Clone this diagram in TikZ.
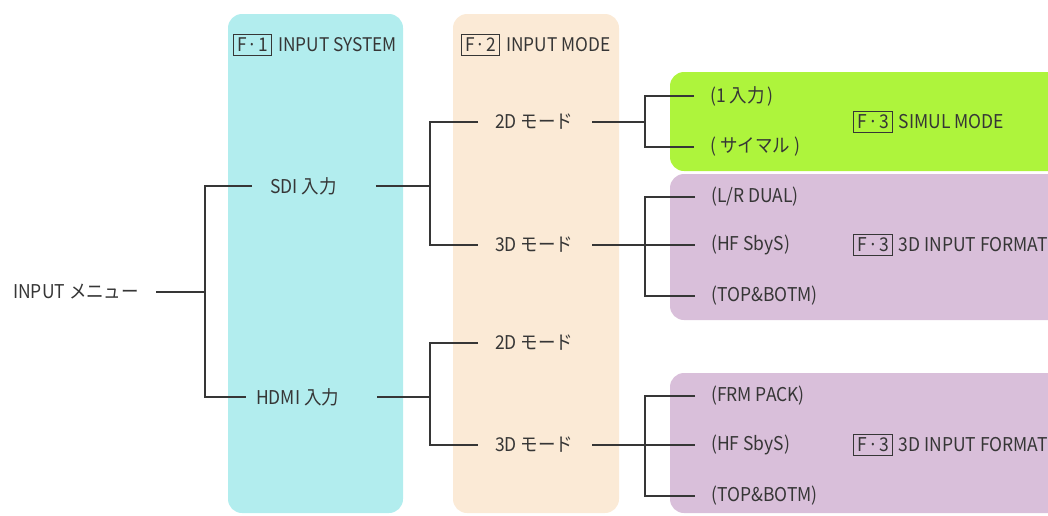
\documentclass[tikz,border=0pt]{standalone}
\usepackage{fontspec}
\setmainfont{Noto Sans CJK JP}[FakeStretch=0.92]
\definecolor{ink}{HTML}{363636}
\definecolor{cyanbg}{HTML}{B2EDEE}
\definecolor{peachbg}{HTML}{FBEAD6}
\definecolor{limebg}{HTML}{AEF43C}
\definecolor{lilacbg}{HTML}{D9BFDA}
% framed function key such as F·1
\newcommand{\fkey}[1]{{\setlength{\fboxsep}{3pt}\setlength{\fboxrule}{1pt}\fbox{\rule{0pt}{13pt}F\kern1.2pt·\kern1.2pt#1}\kern2pt}}
\begin{document}
\begin{tikzpicture}[x=1pt,y=-1pt,
  lbl/.style={anchor=west,inner sep=0pt,font=\fontsize{19}{21}\selectfont,text=ink},
  head/.style={lbl,font=\fontsize{18.8}{21}\selectfont},
  wire/.style={draw=ink,line width=1.3pt},
  panel/.style={rounded corners=14pt}]
\clip (0,0) rectangle (1048,515);
% column and group backgrounds
\fill[cyanbg,panel] (228,14) rectangle (403,513);
\fill[peachbg,panel] (453,14) rectangle (619,513);
\fill[limebg,panel] (670,72) rectangle (1080,171);
\fill[lilacbg,panel] (670,174) rectangle (1080,320);
\fill[lilacbg,panel] (670,373) rectangle (1080,513);
% headings
\node[head] (hsys) at (233,45) {\fkey{1} INPUT SYSTEM};
\node[head] (hmode) at (461,45) {\fkey{2} INPUT MODE};
\node[lbl] (hsimul) at (853,122) {\fkey{3} SIMUL MODE};
\node[lbl] (hfmt1) at (853,245) {\fkey{3} 3D INPUT FORMAT};
\node[lbl] (hfmt2) at (853,445) {\fkey{3} 3D INPUT FORMAT};
% tree items
\node[lbl] (menu) at (13,292) {INPUT メニュー};
\node[lbl] (sdi) at (270,186) {SDI 入力};
\node[lbl] (hdmi) at (256,397) {HDMI 入力};
\node[lbl] (s2d) at (495,122) {2D モード};
\node[lbl] (s3d) at (495,245) {3D モード};
\node[lbl] (h2d) at (495,343) {2D モード};
\node[lbl] (h3d) at (495,445) {3D モード};
\node[lbl] (one) at (710,96) {(1 入力\kern3pt)};
\node[lbl] (sim) at (710,147) {(\kern4pt サイマル\kern4pt)};
\node[lbl] (lr) at (711,197) {(L/R DUAL)};
\node[lbl] (hf1) at (711,245) {(HF SbyS)};
\node[lbl] (tb1) at (711,296) {(TOP\&BOTM)};
\node[lbl] (frm) at (711,396) {(FRM PACK)};
\node[lbl] (hf2) at (711,445) {(HF SbyS)};
\node[lbl] (tb2) at (711,496) {(TOP\&BOTM)};
% junction columns
\coordinate (j0) at (205,0);
\coordinate (j1) at (430,0);
\coordinate (j2) at (645,0);
% menu -> inputs
\draw[wire] ([xshift=17pt]menu.east) -- (j0 |- menu.west);
\draw[wire] ([xshift=-18pt]sdi.west) -| (j0 |- hdmi.west) -- ([xshift=-10pt]hdmi.west);
% inputs -> modes
\draw[wire] ([xshift=39pt]sdi.east) -- (j1 |- sdi.west);
\draw[wire] ([xshift=-17pt]s2d.west) -| (j1 |- s3d.west) -- ([xshift=-17pt]s3d.west);
\draw[wire] ([xshift=38pt]hdmi.east) -- (j1 |- hdmi.west);
\draw[wire] ([xshift=-17pt]h2d.west) -| (j1 |- h3d.west) -- ([xshift=-17pt]h3d.west);
% 2D mode -> simul options
\draw[wire] ([xshift=19pt]s2d.east) -- (j2 |- s2d.west);
\draw[wire] ([xshift=-16pt]one.west) -| (j2 |- sim.west) -- ([xshift=-16pt]sim.west);
% 3D modes -> formats
\draw[wire] ([xshift=19pt]s3d.east) -- ([xshift=-16pt]hf1.west);
\draw[wire] ([xshift=-16pt]lr.west) -| (j2 |- tb1.west) -- ([xshift=-16pt]tb1.west);
\draw[wire] ([xshift=19pt]h3d.east) -- ([xshift=-16pt]hf2.west);
\draw[wire] ([xshift=-16pt]frm.west) -| (j2 |- tb2.west) -- ([xshift=-16pt]tb2.west);
\end{tikzpicture}
\end{document}
